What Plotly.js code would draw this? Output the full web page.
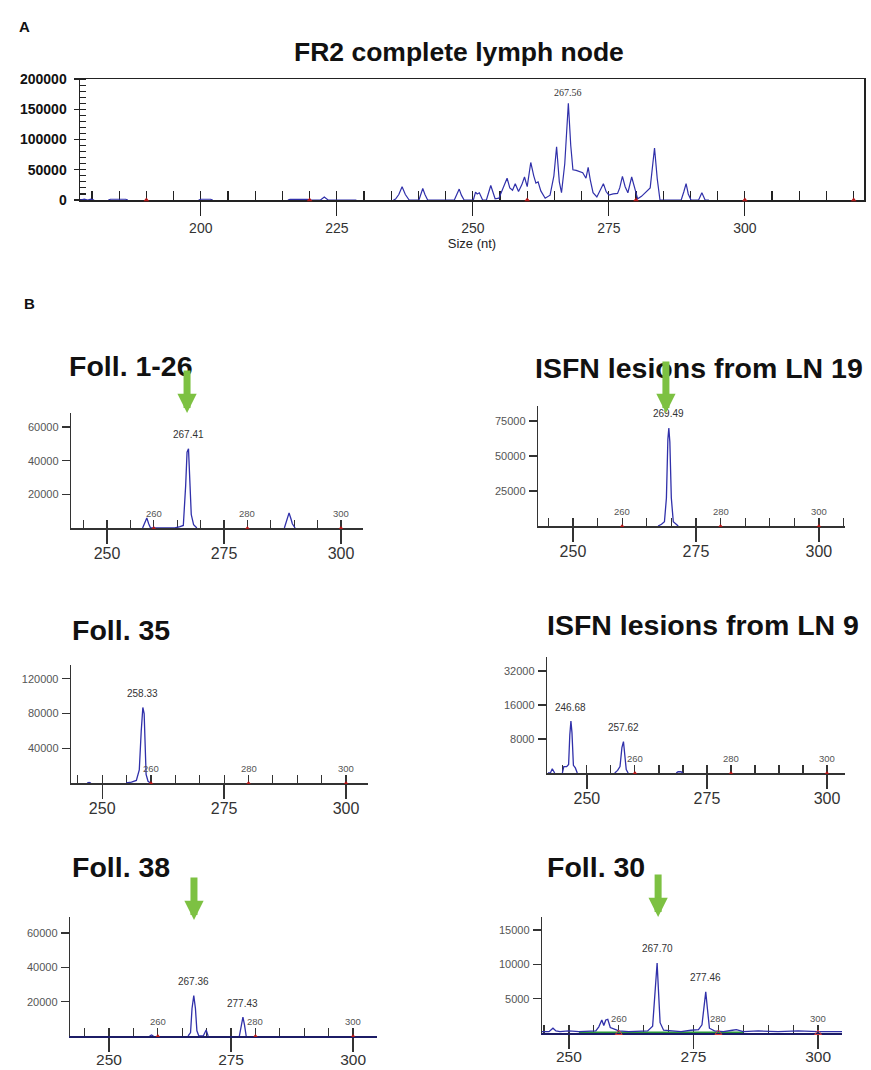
<!DOCTYPE html>
<html><head><meta charset="utf-8">
<script src="https://cdn.plot.ly/plotly-3.0.1.min.js"></script>
<style>html,body{margin:0;padding:0;background:#fff}#chart{width:871px;height:1070px}</style>
</head><body><div id="chart"></div>
<script>
// ================= DATA =================
// Panel A : FR2 complete lymph node
const aSize   = [177.8,178.6,179.2,179.8,180.4,null,183.0,183.4,186.2,186.6,null,199.6,200.0,201.8,202.2,null,
  216.0,216.4,219.6,220.0,222.0,222.7,223.4,225.4,225.8,228.2,228.6,null,
  235.4,235.8,236.4,237.0,237.6,238.3,240.1,240.5,240.8,241.2,241.7,246.6,247.1,247.5,247.9,248.4,
  250.1,250.5,250.8,251.2,251.8,252.5,253.3,254.1,254.8,255.6,256.3,256.8,257.3,257.8,258.4,259.0,259.5,260.0,
  260.65,261.2,261.6,262.0,262.5,263.3,264.2,264.9,265.4,265.9,266.3,266.9,267.56,268.0,268.4,269.0,269.6,270.2,
  270.8,271.2,271.6,272.1,272.8,273.4,274.0,274.5,275.0,275.8,276.6,277.0,277.5,278.0,278.5,279.2,279.7,280.3,
  281.0,282.0,282.6,283.4,283.9,284.4,288.3,288.8,289.2,289.6,290.1,291.5,292.1,292.7,293.4];
const aSignal = [0,1500,0,1500,0,null,0,1200,1200,0,null,0,1200,1200,0,null,
  0,1000,1000,0,0,5000,0,0,1200,1200,0,null,
  0,1500,9000,22000,9000,0,0,10000,19000,9000,0,0,9000,18000,8000,0,
  0,13000,10000,12000,0,0,24000,2000,3000,20000,36000,20000,16000,27000,14000,25000,38000,22000,
  62000,40000,28000,30000,15000,3000,8000,40000,88000,30000,12000,60000,160000,90000,50000,49000,47000,45000,
  36000,54000,33000,12000,5000,16000,27000,14000,8000,10000,11000,20000,39000,22000,12000,38000,20000,2000,
  6000,15000,20000,86000,35000,0,0,14000,27000,10000,0,0,12000,0,0];
const aLadderSize   = [190,220,260,280,300,320];
const aLadderSignal = [0,0,0,0,0,0];
const aPeakSize = [267.56], aPeakHeight = [160000], aPeakText = ['267.56'];

// Panel B : size-standard marks shown under every trace
const bLadderSize   = [260,280,300];
const bLadderSignal = [0,0,0];
const bLadderText   = ['260','280','300'];

// Foll. 1-26
const f126Size   = [257.6,258.1,258.5,258.9,259.3,261.0,262.0,264.5,265.6,266.3,266.8,267.1,267.41,267.7,268.0,268.5,269.2,null,287.9,288.5,288.9,289.3,289.6,290.2];
const f126Signal = [0,3000,6000,2500,0,0,0,0,800,1500,25000,45000,47000,27000,8000,2000,0,null,0,5500,9000,5500,2500,0];
const f126PeakSize = [267.41], f126PeakHeight = [47000], f126PeakText = ['267.41'];
const f126YTicks = [20000,40000,60000];

// ISFN lesions from LN 19
const isfn19Size   = [267.3,268.0,268.6,269.0,269.3,269.49,269.7,270.0,270.4,270.9,271.4];
const isfn19Signal = [0,1200,3000,20000,62000,70000,60000,20000,3000,1200,0];
const isfn19PeakSize = [269.49], isfn19PeakHeight = [70000], isfn19PeakText = ['269.49'];
const isfn19YTicks = [25000,50000,75000];

// Foll. 35
const f35Size   = [246.9,247.3,247.7,null,254.9,256.0,257.0,257.6,258.0,258.33,258.6,258.8,259.0,259.4,259.9];
const f35Signal = [0,700,0,null,0,1000,3000,15000,60000,87000,80000,40000,10000,2000,0];
const f35PeakSize = [258.33], f35PeakHeight = [87000], f35PeakText = ['258.33'];
const f35YTicks = [40000,80000,120000];

// ISFN lesions from LN 9  (axis labels as printed: 8000, 16000, 32000 at equal steps)
const isfn9Size   = [241.9,242.4,242.8,243.3,null,244.9,245.2,245.8,246.2,246.45,246.68,246.9,247.2,247.6,248.0,null,
  255.8,256.4,256.9,257.3,257.62,257.9,258.2,258.6,null,268.6,269.0,269.6,270.0];
const isfn9Signal = [0,0,1000,0,null,0,1500,1500,2000,9000,12200,9500,1800,1200,0,null,
  0,600,1500,6000,7400,3500,800,0,null,0,300,300,0];
const isfn9PeakSize = [246.68,257.62], isfn9PeakHeight = [12200,7400], isfn9PeakText = ['246.68','257.62'];
const isfn9YTicks = [8000,16000,24000];
const isfn9YTickText = ['8000','16000','32000'];

// Foll. 38
const f38Size   = [258.3,258.7,259.1,null,266.2,266.7,267.0,267.36,267.7,268.0,268.4,269.3,269.9,270.3,null,276.7,277.1,277.43,277.75,278.1];
const f38Signal = [0,600,0,null,0,2000,16000,23500,16000,3000,0,0,3500,0,null,0,7000,11000,6500,0];
const f38PeakSize = [267.36,277.43], f38PeakHeight = [23500,11000], f38PeakText = ['267.36','277.43'];
const f38YTicks = [20000,40000,60000];

// Foll. 30
const f30Size   = [244.6,246.0,246.8,247.4,248.2,250.0,252.0,254.0,255.4,256.0,256.6,257.0,257.4,257.8,258.3,259.0,260.0,
  262.0,264.0,265.8,266.8,267.2,267.5,267.7,267.95,268.3,269.0,270.5,272.5,274.5,276.0,276.7,277.1,277.46,277.8,278.2,
  279.2,281.0,282.8,283.6,285.0,288.0,292.0,296.0,300.0,304.8];
const f30Signal = [200,200,700,300,200,300,200,300,300,900,1900,1100,1900,2000,800,600,300,
  200,300,300,1000,5000,9000,10200,6500,1500,400,300,200,400,500,1200,4000,6000,3500,700,
  300,200,400,500,200,300,200,300,200,200];
const f30GreenSize = [252,285], f30GreenSignal = [60,60];
const f30PeakSize = [267.70,277.46], f30PeakHeight = [10200,6000], f30PeakText = ['267.70','277.46'];
const f30YTicks = [5000,10000,15000];

// ================= LAYOUT HELPERS =================
const W = 871, H = 1070;
const px = p => p / W;
const py = p => 1 - p / H;
const BLUE = '#3030aa', GREEN = '#7dc142', RED = '#b01818';
const SANS = 'Liberation Sans, Arial, sans-serif';

function hasFont(name){
  const c = document.createElement('canvas').getContext('2d');
  const t = 'FR2 complete lymph node';
  c.font = '32px monospace'; const w0 = c.measureText(t).width;
  c.font = '32px "' + name + '", monospace'; const w1 = c.measureText(t).width;
  return Math.abs(w1 - w0) > 0.5;
}
const narrow = hasFont('Liberation Sans Narrow');

const traces = [];
const annotations = [];
const layout = {
  width: W, height: H, margin: {l:0, r:0, t:0, b:0},
  paper_bgcolor: '#fff', plot_bgcolor: '#fff', showlegend: false,
  font: {family: SANS, color: '#333'},
  annotations: annotations
};

// ---- Panel A ----
layout.xaxis = {
  domain: [px(80), px(864)], anchor: 'y', range: [177.8, 321.9],
  showline: true, mirror: true, linecolor: '#222', linewidth: 1.5, layer: 'below traces',
  ticks: 'outside', ticklen: 14, tickwidth: 1.3, tickcolor: '#222', tick0: 0, dtick: 25,
  minor: {ticks: 'inside', ticklen: 9, tickwidth: 1.2, tickcolor: '#222', tick0: 0, dtick: 5},
  tickfont: {size: 14, color: '#333', family: SANS}, ticklabelstandoff: 1,
  showgrid: false, zeroline: false,
  title: {text: 'Size (nt)', font: {size: 13, color: '#222', family: SANS}, standoff: 2}
};
layout.yaxis = {
  domain: [py(200), py(79)], anchor: 'x', range: [0, 200000],
  showline: true, mirror: true, linecolor: '#222', linewidth: 1.5, layer: 'below traces',
  ticks: 'outside', ticklen: 5, tickwidth: 1.3, tickcolor: '#222', tick0: 0, dtick: 50000, tickformat: 'd',
  minor: {ticks: 'inside', ticklen: 6, tickwidth: 1.1, tickcolor: '#222', tick0: 0, dtick: 10000},
  tickfont: {size: 14, color: '#111', family: SANS, weight: 'bold'}, ticklabelstandoff: 4,
  showgrid: false, zeroline: false
};
traces.push({x: aSize, y: aSignal, xaxis: 'x', yaxis: 'y', mode: 'lines', connectgaps: false,
  line: {color: BLUE, width: 1.2}, hoverinfo: 'skip'});
traces.push({x: aLadderSize, y: aLadderSignal, xaxis: 'x', yaxis: 'y', mode: 'markers', cliponaxis: false,
  marker: {symbol: 'triangle-up', size: 5, color: RED}, hoverinfo: 'skip'});
aPeakSize.forEach((s, i) => annotations.push({x: s, y: aPeakHeight[i], xref: 'x', yref: 'y', text: aPeakText[i],
  showarrow: false, yshift: 11, font: {size: 10, color: '#333', family: 'Liberation Serif, Times New Roman, serif'}}));

annotations.push({x: px(17), y: py(16), xref: 'paper', yref: 'paper', text: 'A', showarrow: false,
  font: {size: 15, color: '#111', family: SANS, weight: 'bold'}});
annotations.push({x: px(459), y: py(35), xref: 'paper', yref: 'paper', text: 'FR2 complete lymph node', showarrow: false,
  font: narrow ? {size: 32, color: '#111', family: 'Liberation Sans Narrow', weight: 'bold'}
               : {size: 26.5, color: '#111', family: SANS, weight: 'bold'}});
annotations.push({x: px(22), y: py(293), xref: 'paper', yref: 'paper', text: 'B', showarrow: false,
  font: {size: 15, color: '#111', family: SANS, weight: 'bold'}});

// ---- Panel B ----
const bPanels = [
  {n: 2, size: f126Size, sig: f126Signal, pk: [f126PeakSize, f126PeakHeight, f126PeakText], yt: f126YTicks,
   box: [71, 413, 363, 528], xr: [242.3, 304.7], yr: [0, 68300], title: 'Foll. 1-26', tpos: [67, 348],
   arrow: {x: 267.1, len: 44, shift: 0}},
  {n: 3, size: isfn19Size, sig: isfn19Signal, pk: [isfn19PeakSize, isfn19PeakHeight, isfn19PeakText], yt: isfn19YTicks,
   box: [538, 406, 845, 526], xr: [242.9, 305.3], yr: [0, 85700], title: 'ISFN lesions from LN 19', tpos: [533, 350],
   arrow: {x: 268.9, len: 53, shift: -7}},
  {n: 4, size: f35Size, sig: f35Signal, pk: [f35PeakSize, f35PeakHeight, f35PeakText], yt: f35YTicks,
   box: [71, 665, 368, 783], xr: [243.6, 304.5], yr: [0, 136000], title: 'Foll. 35', tpos: [70, 630]},
  {n: 5, size: isfn9Size, sig: isfn9Signal, pk: [isfn9PeakSize, isfn9PeakHeight, isfn9PeakText], yt: isfn9YTicks, ytt: isfn9YTickText,
   box: [547, 657, 845, 773], xr: [241.7, 303.75], yr: [0, 27300], title: 'ISFN lesions from LN 9', tpos: [545, 625]},
  {n: 6, size: f38Size, sig: f38Signal, pk: [f38PeakSize, f38PeakHeight, f38PeakText], yt: f38YTicks,
   box: [70, 917, 377, 1036], xr: [242.0, 304.9], yr: [0, 69300], title: 'Foll. 38', tpos: [70, 885],
   arrow: {x: 267.4, len: 44, shift: -3}, navy: true, bottomRow: true},
  {n: 7, size: f30Size, sig: f30Signal, pk: [f30PeakSize, f30PeakHeight, f30PeakText], yt: f30YTicks,
   box: [542, 917, 842, 1033], xr: [244.6, 304.8], yr: [0, 16900], title: 'Foll. 30', tpos: [545, 885],
   arrow: {x: 267.9, len: 44, shift: 0}, navy: true, green: true, openLadder: true, bottomRow: true}
];

bPanels.forEach(p => {
  const xa = 'x' + p.n, ya = 'y' + p.n;
  const [l, t, r, b] = p.box;
  const axisColor = p.navy ? '#1c1c66' : '#333';
  layout['xaxis' + p.n] = {
    domain: [px(l), px(r)], anchor: ya, range: p.xr,
    showline: true, linecolor: axisColor, linewidth: p.navy ? 2.2 : 1.5, layer: 'below traces',
    ticks: 'outside', ticklen: 14, tickwidth: 1.4, tickcolor: '#333', tick0: 0, dtick: 25,
    minor: {ticks: 'inside', ticklen: 8, tickwidth: 1.2, tickcolor: '#333', tick0: 0, dtick: 5},
    tickfont: {size: p.bottomRow ? 15.5 : 16, color: '#333', family: SANS}, ticklabelstandoff: p.bottomRow ? -6 : -4,
    showgrid: false, zeroline: false
  };
  const yax = {
    domain: [py(b), py(t)], anchor: xa, range: p.yr,
    showline: true, linecolor: '#333', linewidth: 1.3, layer: 'below traces',
    ticks: 'outside', ticklen: 8, tickwidth: 1.2, tickcolor: '#333',
    tickmode: 'array', tickvals: p.yt, tickformat: 'd',
    tickfont: {size: 11, color: '#555', family: SANS}, ticklabelstandoff: 1,
    showgrid: false, zeroline: false
  };
  if (p.ytt) yax.ticktext = p.ytt;
  layout['yaxis' + p.n] = yax;

  if (p.green) {
    traces.push({x: f30GreenSize, y: f30GreenSignal, xaxis: xa, yaxis: ya, mode: 'lines',
      line: {color: '#2a9a3a', width: 2}, hoverinfo: 'skip'});
  }
  traces.push({x: p.size, y: p.sig, xaxis: xa, yaxis: ya, mode: 'lines', connectgaps: false,
    line: {color: BLUE, width: 1.3}, hoverinfo: 'skip'});
  traces.push({x: bLadderSize, y: bLadderSignal, xaxis: xa, yaxis: ya, mode: 'markers', cliponaxis: false,
    marker: p.openLadder ? {symbol: 'triangle-up-open', size: 6, color: '#d04040', line: {width: 1}}
                         : {symbol: 'triangle-up', size: 4, color: RED}, hoverinfo: 'skip'});
  bLadderSize.forEach((s, i) => annotations.push({x: s, y: 0, xref: xa, yref: ya, text: bLadderText[i],
    showarrow: false, yshift: 15, font: {size: 9.5, color: '#555', family: SANS}}));
  p.pk[0].forEach((s, i) => annotations.push({x: s, y: p.pk[1][i], xref: xa, yref: ya, text: p.pk[2][i],
    showarrow: false, yshift: 14, font: {size: 10, color: '#333', family: SANS}}));
  annotations.push({x: px(p.tpos[0]), y: py(p.tpos[1]), xref: 'paper', yref: 'paper', xanchor: 'left',
    text: p.title, showarrow: false, font: {size: 28.5, color: '#111', family: SANS, weight: 'bold'}});
  if (p.arrow) {
    annotations.push({x: p.arrow.x, y: 1, xref: xa, yref: ya + ' domain', ax: 0, ay: -p.arrow.len,
      yshift: p.arrow.shift, text: '', font: {size: 1}, showarrow: true, arrowhead: 2, arrowsize: 0.55,
      arrowwidth: 7, arrowcolor: GREEN});
  }
});

Plotly.newPlot('chart', traces, layout, {staticPlot: true, displayModeBar: false});
</script>
</body></html>
